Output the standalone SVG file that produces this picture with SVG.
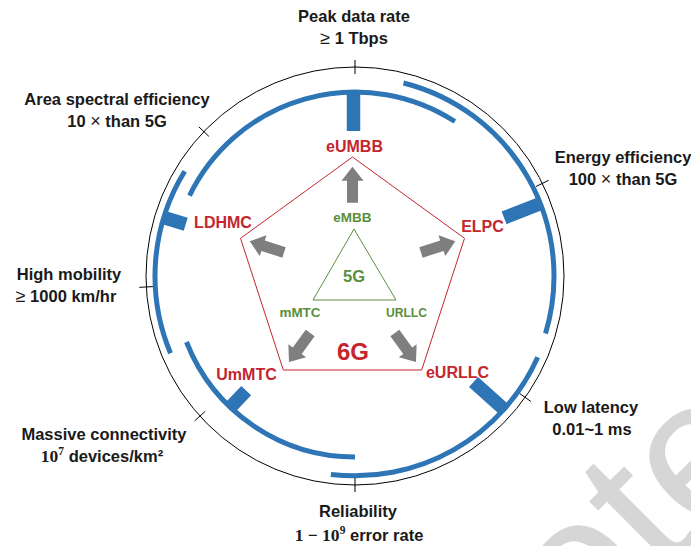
<svg xmlns="http://www.w3.org/2000/svg" width="691" height="546" viewBox="0 0 691 546">
<defs>
<style>
.lbl{font-family:"Liberation Sans",Arial,sans-serif;font-weight:bold;font-size:16.5px;fill:#1a1a1a;text-anchor:middle}
.math{font-weight:normal;font-size:18px}
.serif{font-family:"Liberation Serif","Times New Roman",serif;font-weight:bold;font-size:17.5px}
.sup{font-size:11.5px}
.red{font-family:"Liberation Sans",Arial,sans-serif;font-weight:bold;font-size:16px;fill:#c4262e;text-anchor:middle}
.grn{font-family:"Liberation Sans",Arial,sans-serif;font-weight:bold;font-size:13.5px;fill:#5a8f3c;text-anchor:middle}
.arc{fill:none;stroke:#2e75b6;stroke-width:5}
.bar{stroke:#2e75b6;stroke-width:13.5}
.tick{stroke:#000;stroke-width:1}
.arrow{fill:#7f7f7f}
</style>
<path id="blk" d="M72,-5.5 H94 V-11 L108,0 L94,11 V5.5 H72 Z"/>
</defs>
<rect width="691" height="546" fill="#fff"/>
<text x="-137" y="0" transform="translate(680,560) rotate(-45)" font-family="Liberation Sans, Arial, sans-serif" font-size="200" fill="#d6d6d6">ote</text>

<g id="outer-ring">
<circle cx="355" cy="276" r="209" fill="none" stroke="#000" stroke-width="1"/>
<line class="tick" x1="355" y1="74" x2="355" y2="60"/>
<line class="tick" x1="208.9" y1="136.4" x2="198.8" y2="126.8"/>
<line class="tick" x1="153.3" y1="286.6" x2="139.3" y2="287.3"/>
<line class="tick" x1="205.1" y1="411.4" x2="194.7" y2="420.8"/>
<line class="tick" x1="355" y1="478" x2="355" y2="492"/>
<line class="tick" x1="519.4" y1="393.3" x2="530.8" y2="401.4"/>
<line class="tick" x1="536.1" y1="186.5" x2="548.6" y2="180.3"/>
</g>

<g id="metric-peak"><text class="lbl" x="354" y="22">Peak data rate</text><text class="lbl" x="354" y="44"><tspan class="math">≥</tspan> 1 Tbps</text></g>
<g id="metric-area"><text class="lbl" x="117" y="105">Area spectral efficiency</text><text class="lbl" x="117" y="127">10 <tspan class="math">×</tspan> than 5G</text></g>
<g id="metric-energy"><text class="lbl" x="623" y="163">Energy efficiency</text><text class="lbl" x="623" y="185">100 <tspan class="math">×</tspan> than 5G</text></g>
<g id="metric-mobility"><text class="lbl" x="69" y="280">High mobility</text><text class="lbl" x="66" y="302"><tspan class="math">≥</tspan> 1000 km/hr</text></g>
<g id="metric-connectivity"><text class="lbl" x="102" y="462"><tspan class="serif">10</tspan><tspan class="serif sup" dy="-7">7</tspan><tspan dy="7"> devices/km²</tspan></text><text class="lbl" x="104" y="440">Massive connectivity</text></g>
<g id="metric-reliability"><text class="lbl" x="358" y="517">Reliability</text><text class="lbl" x="359" y="541"><tspan class="serif">1 − 10</tspan><tspan class="serif sup" dy="-7">9</tspan><tspan dy="7"> error rate</tspan></text></g>
<g id="metric-latency"><text class="lbl" x="591" y="413">Low latency</text><text class="lbl" x="592" y="435">0.01~1 ms</text></g>

<g id="node-eUMBB">
<path class="arc" d="M189.5,195.6 A184,184 0 0 1 454.9,121.5"/>
<line class="bar" x1="353.5" y1="131" x2="353.5" y2="90"/>
<text class="red" x="354.5" y="152">eUMBB</text>
</g>
<g id="node-ELPC">
<path class="arc" d="M403.5,83 A199,199 0 0 1 545.5,333.5"/>
<line class="bar" x1="504.1" y1="217.9" x2="541.3" y2="203.3"/>
<text class="red" x="482.5" y="232">ELPC</text>
</g>
<g id="node-eURLLC">
<path class="arc" d="M537.7,357.3 A200,200 0 0 1 330.9,474.4"/>
<line class="bar" x1="473.5" y1="382" x2="504.8" y2="410"/>
<text class="red" x="457.5" y="378">eURLLC</text>
</g>
<g id="node-UmMTC">
<path class="arc" d="M355,457 A181,181 0 0 1 186.5,342"/>
<line class="bar" x1="246.2" y1="390.6" x2="229.7" y2="408"/>
<text class="red" x="246.5" y="380">UmMTC</text>
</g>
<g id="node-LDHMC">
<path class="arc" d="M170.5,353.2 A200,200 0 0 1 184.7,171.2"/>
<line class="bar" x1="185.7" y1="224.2" x2="162.8" y2="217.2"/>
<text class="red" x="223" y="228">LDHMC</text>
</g>

<g id="node-6G">
<polygon points="352.5,157 464.5,238.3 421.7,370 283.3,370 240.5,238.3" fill="none" stroke="#c4262e" stroke-width="1"/>
<text class="red" x="353" y="360" style="font-size:24px">6G</text>
</g>
<g id="node-5G">
<polygon points="354,229 396,300 313,300" fill="none" stroke="#5a8f3c" stroke-width="1"/>
<text class="grn" x="354" y="282" style="font-size:16.5px">5G</text>
<text class="grn" x="352.5" y="222">eMBB</text>
<text class="grn" x="300" y="317">mMTC</text>
<text class="grn" x="406.5" y="317" textLength="41" lengthAdjust="spacingAndGlyphs">URLLC</text>
</g>

<g id="connectors">
<use href="#blk" class="arrow" transform="translate(352.5,274.7) rotate(-90)"/>
<use href="#blk" class="arrow" transform="translate(352.5,274.7) rotate(-18)"/>
<use href="#blk" class="arrow" transform="translate(352.5,274.7) rotate(54)"/>
<use href="#blk" class="arrow" transform="translate(352.5,274.7) rotate(126)"/>
<use href="#blk" class="arrow" transform="translate(352.5,274.7) rotate(198)"/>
</g>
</svg>
